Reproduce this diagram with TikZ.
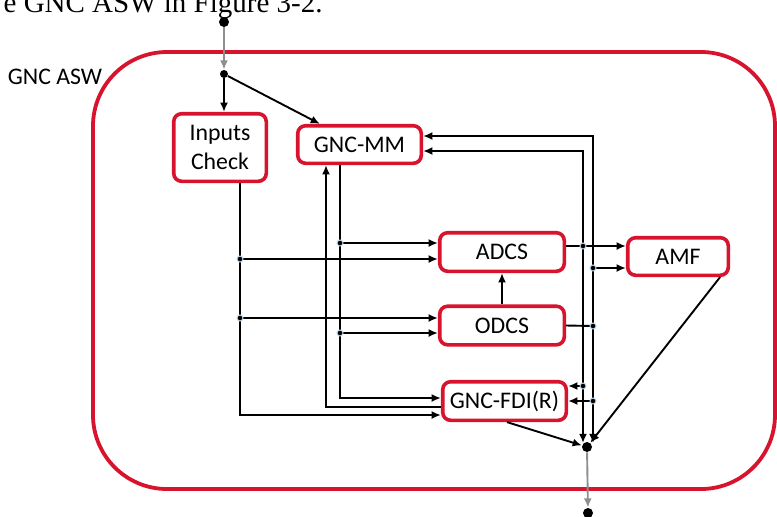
\documentclass[tikz,border=0pt]{standalone}
\usepackage{fontspec}
\setmainfont{Carlito}
\newfontfamily\capfont{Liberation Serif}
\usetikzlibrary{positioning,arrows.meta,calc}
\definecolor{aswred}{HTML}{D7132E}
\definecolor{feedgray}{HTML}{8E8E8E}
\definecolor{taphalo}{HTML}{BFD8EC}
\newcommand{\wiredot}[1]{%
  \filldraw[draw=taphalo, fill=black, line width=0.5pt] (#1) circle (1.5pt);%
}

\begin{document}
\begin{tikzpicture}[x=0.5pt, y=-0.5pt,
    blk/.style={draw=aswred, line width=1.8pt, rounded corners=4pt, fill=white,
                font=\fontsize{11.9}{14.5}\selectfont, align=center, inner sep=0pt},
    lbl/.style={font=\fontsize{11.9}{14.5}\selectfont},
    fl/.style={line width=0.95pt, black, -{Latex[length=4.6pt,width=4pt]}},
    ln/.style={line width=0.95pt, black},
    gfl/.style={line width=0.95pt, feedgray, -{Latex[length=4.6pt,width=4pt]}},
    bigdot/.style={circle, fill=black, inner sep=0pt, minimum size=5pt},
  ]
    \useasboundingbox (0,0) rectangle (777,516);
    \clip (0,0) rectangle (777,516);

    % caption line cut off above the figure
    \node[font=\capfont\fontsize{14.5}{16}\selectfont, anchor=base east, inner sep=0pt]
      (cap) at (323,12) {e GNC ASW in Figure 3-2.};

    % GNC ASW container
    \draw[draw=aswred, line width=1.9pt, rounded corners=37pt] (93,52) rectangle (775,489);
    \node[lbl] (asw) at (55,77) {GNC ASW};

    % blocks
    \node[blk, minimum width=46.3pt, minimum height=33.8pt] (ic) at (220,147.5) {Inputs\\Check};
    \node[blk, minimum width=61.8pt, minimum height=18.8pt] (mm) at (359.5,144.5) {GNC-MM};
    \node[blk, minimum width=62.3pt, minimum height=19.3pt] (adcs) at (502,252) {ADCS};
    \node[blk, minimum width=62.3pt, minimum height=19.3pt] (odcs) at (502,325.5) {ODCS};
    \node[blk, minimum width=50.3pt, minimum height=18.8pt] (amf) at (678,256.5) {AMF};
    \node[blk, minimum width=61.8pt, minimum height=19.3pt] (fdi) at (504.5,401) {GNC-FDI(R)};

    % input and split
    \node[bigdot] (src) at (224,22) {};
    \node[bigdot, minimum size=4pt] (split) at (224,74) {};
    \draw[gfl] (src) -- (split);
    \draw[fl] (split) -- (split |- ic.north);
    \draw[fl] (split) -- ([xshift=12pt]mm.north west);

    % Inputs Check output bus
    \coordinate (icb) at ([xshift=10pt]ic.south);
    \coordinate (a2) at ([yshift=-3.5pt]adcs.west);
    \coordinate (o1) at ([yshift=3.75pt]odcs.west);
    \draw[fl] (icb) |- ([yshift=-7pt]fdi.west);
    \draw[fl] (icb |- a2) -- (a2);
    \draw[fl] (icb |- o1) -- (o1);

    % GNC-MM output bus
    \coordinate (mmo) at ([xshift=-9.75pt]mm.south);
    \coordinate (a1) at ([yshift=4.5pt]adcs.west);
    \coordinate (o2) at ([yshift=-3.75pt]odcs.west);
    \draw[fl] (mmo) |- ([yshift=1.5pt]fdi.west);
    \draw[fl] (mmo |- a1) -- (a1);
    \draw[fl] (mmo |- o2) -- (o2);

    % FDI back to GNC-MM
    \draw[fl] ([yshift=-3pt]fdi.west) -| ([xshift=-16.75pt]mm.south);

    % ODCS to ADCS
    \draw[fl] (odcs.north) -- (adcs.south);

    % output junction
    \node[bigdot] (out) at (587,447) {};
    \node[bigdot] (sink) at (588,513) {};
    \coordinate (outA) at (583,443);
    \coordinate (outO) at (593,443);

    % ADCS bus
    \coordinate (ja) at (583,246);
    \draw[ln] ([yshift=3pt]adcs.east) -- (ja);
    \draw[fl] (ja) -- ([yshift=5.25pt]amf.west);
    \draw[fl] (ja) |- ([yshift=-3.25pt]mm.east);
    \draw[fl] (ja) -- (outA);
    \draw[fl] (ja |- 0,386) -- ([yshift=7.5pt]fdi.east);

    % ODCS bus
    \coordinate (jo) at (593,326);
    \draw[ln] (odcs.east) -- (jo);
    \draw[fl] (jo) |- ([yshift=4.25pt]mm.east);
    \draw[fl] (jo) -- (outO);
    \draw[fl] (jo |- 0,268) -- ([yshift=-5.75pt]amf.west);
    \draw[fl] (jo |- fdi.east) -- (fdi.east);

    % into the output junction
    \draw[fl] ([xshift=1.25pt]fdi.south) -- (out);
    \draw[fl] ([xshift=-5pt]amf.south east) -- (out);
    \draw[gfl] (out) -- (sink);

    % tap points
    \wiredot{icb |- a2}
    \wiredot{icb |- o1}
    \wiredot{mmo |- a1}
    \wiredot{mmo |- o2}
    \wiredot{ja}
    \wiredot{jo}
    \wiredot{jo |- 0,268}
    \wiredot{ja |- 0,386}
    \wiredot{jo |- fdi.east}
  \end{tikzpicture}
\end{document}
